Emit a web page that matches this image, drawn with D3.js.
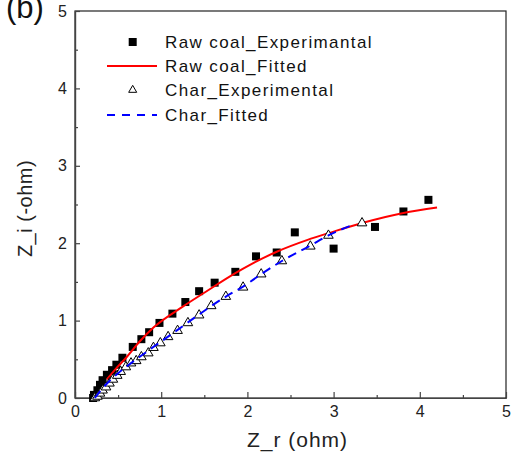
<!DOCTYPE html>
<html>
<head>
<meta charset="utf-8">
<script src="https://cdn.jsdelivr.net/npm/d3@7"></script>
<style>
  body { margin: 0; background: #fff; }
  svg { display: block; font-family: "Liberation Sans", Arial, sans-serif; }
</style>
</head>
<body>
<div class="svg-container"></div>
<script>
// raw coal, experimental points [Z_r, Z_i]
const rawExpX = [0.21, 0.22, 0.26, 0.29, 0.32, 0.37, 0.43, 0.48, 0.55, 0.67, 0.77, 0.86, 0.98, 1.13, 1.28, 1.44, 1.62, 1.86, 2.10, 2.34, 2.55, 3.00, 3.48, 3.81, 4.10];
const rawExpY = [0.00, 0.04, 0.10, 0.17, 0.23, 0.30, 0.36, 0.43, 0.52, 0.66, 0.76, 0.85, 0.97, 1.09, 1.24, 1.38, 1.49, 1.63, 1.83, 1.88, 2.14, 1.93, 2.21, 2.41, 2.56];

// raw coal, fitted curve
const rawFitX = [0.37, 0.46, 0.60, 0.75, 0.91, 1.25, 1.50, 1.87, 2.03, 2.34, 2.69, 3.00, 3.33, 3.81, 4.20];
const rawFitY = [0.24, 0.36, 0.53, 0.73, 0.91, 1.18, 1.36, 1.62, 1.72, 1.89, 2.04, 2.15, 2.26, 2.39, 2.46];

// char, experimental points
const charExpX = [0.23, 0.26, 0.29, 0.32, 0.36, 0.40, 0.44, 0.49, 0.53, 0.59, 0.65, 0.71, 0.77, 0.85, 0.91, 0.99, 1.08, 1.19, 1.31, 1.44, 1.58, 1.75, 1.95, 2.16, 2.40, 2.73, 2.94, 3.33];
const charExpY = [0.00, 0.02, 0.06, 0.10, 0.14, 0.19, 0.24, 0.29, 0.34, 0.40, 0.45, 0.48, 0.53, 0.58, 0.65, 0.71, 0.79, 0.87, 0.97, 1.07, 1.19, 1.31, 1.43, 1.60, 1.77, 1.96, 2.10, 2.26];

// char, fitted curve
const charFitX = [0.23, 0.30, 0.40, 0.50, 0.65, 0.91, 1.19, 1.44, 1.75, 1.95, 2.16, 2.40, 2.73, 2.94, 3.25];
const charFitY = [0.00, 0.10, 0.22, 0.32, 0.45, 0.66, 0.88, 1.08, 1.31, 1.44, 1.60, 1.77, 1.97, 2.10, 2.25];

const xTicks = [0, 1, 2, 3, 4, 5];
const yTicks = [0, 1, 2, 3, 4, 5];
const legendLabels = ['Raw coal_Experimantal', 'Raw coal_Fitted', 'Char_Experimental', 'Char_Fitted'];

const W = 513, H = 456;
const plot = { left: 75, right: 506, top: 11, bottom: 398 };
const axisColor = '#444';

const svg = d3.select('.svg-container')
    .append('svg')
    .attr('width', W)
    .attr('height', H);

const x = d3.scaleLinear().domain([0, 5]).range([plot.left, plot.right]);
const y = d3.scaleLinear().domain([0, 5]).range([plot.bottom, plot.top]);

const zip = (xs, ys) => xs.map((v, i) => [v, ys[i]]);
const rawExp = zip(rawExpX, rawExpY);
const rawFit = zip(rawFitX, rawFitY);
const charExp = zip(charExpX, charExpY);
const charFit = zip(charFitX, charFitY);

//frame
svg.append('rect')
    .attr('x', plot.left).attr('y', plot.top)
    .attr('width', plot.right - plot.left)
    .attr('height', plot.bottom - plot.top)
    .attr('fill', 'none')
    .attr('stroke', '#222')
    .attr('stroke-width', 1.2);

//x axis, ticks pointing inward
const gx = svg.append('g')
    .attr('transform', `translate(0, ${plot.bottom})`)
    .call(d3.axisBottom(x).tickValues(xTicks).tickFormat(d3.format('d'))
        .tickSizeInner(-6).tickSizeOuter(0).tickPadding(8));
gx.append('g').call(d3.axisBottom(x).tickValues(xTicks.slice(0, -1).map(d => d + 0.5))
        .tickSizeInner(-3).tickSizeOuter(0).tickFormat(''));

//y axis
const gy = svg.append('g')
    .attr('transform', `translate(${plot.left}, 0)`)
    .call(d3.axisLeft(y).tickValues(yTicks).tickFormat(d3.format('d'))
        .tickSizeInner(-5).tickSizeOuter(0).tickPadding(8));
gy.append('g').call(d3.axisLeft(y).tickValues(yTicks.slice(0, -1).map(d => d + 0.5))
        .tickSizeInner(-3).tickSizeOuter(0).tickFormat(''));

svg.selectAll('.domain').attr('stroke', axisColor).attr('stroke-width', 1.2);
svg.selectAll('.tick line').attr('stroke', axisColor).attr('stroke-width', 1.2);
svg.selectAll('.tick text')
    .attr('font-size', 16)
    .attr('font-family', '"Liberation Sans", Arial, sans-serif')
    .attr('fill', '#222');

//axis titles
svg.append('text')
    .attr('x', (plot.left + plot.right) / 2 + 7)
    .attr('y', 447)
    .attr('text-anchor', 'middle')
    .attr('font-size', 21)
    .attr('letter-spacing', 1)
    .attr('fill', '#222')
    .text('Z_r (ohm)');

svg.append('text')
    .attr('transform', `translate(32, ${(plot.top + plot.bottom) / 2 + 4}) rotate(-90)`)
    .attr('text-anchor', 'middle')
    .attr('font-size', 20)
    .attr('letter-spacing', 0.5)
    .attr('fill', '#222')
    .text('Z_i (-ohm)');

svg.append('text')
    .attr('x', 6)
    .attr('y', 18)
    .attr('font-size', 31)
    .attr('fill', '#111')
    .text('(b)');

const line = d3.line()
    .x(d => x(d[0]))
    .y(d => y(d[1]))
    .curve(d3.curveMonotoneX);

const sq = 8;

//raw coal squares
svg.selectAll('.raw-pt')
    .data(rawExp)
    .join('rect')
    .attr('class', 'raw-pt')
    .attr('x', d => x(d[0]) - sq / 2)
    .attr('y', d => y(d[1]) - sq / 2)
    .attr('width', sq)
    .attr('height', sq)
    .attr('fill', '#000');

//raw coal fit
svg.append('path')
    .datum(rawFit)
    .attr('d', line)
    .attr('fill', 'none')
    .attr('stroke', '#ff0000')
    .attr('stroke-width', 2);

//char triangles
const tri = d3.symbol().type(d3.symbolTriangle).size(40);
svg.selectAll('.char-pt')
    .data(charExp)
    .join('path')
    .attr('class', 'char-pt')
    .attr('d', tri)
    .attr('transform', d => `translate(${x(d[0])}, ${y(d[1])})`)
    .attr('fill', '#fff')
    .attr('stroke', '#000')
    .attr('stroke-width', 1);

//char fit
svg.append('path')
    .datum(charFit)
    .attr('d', line)
    .attr('fill', 'none')
    .attr('stroke', '#0000ff')
    .attr('stroke-width', 2)
    .attr('stroke-dasharray', '9,6');

//legend
const legX = 132.7, legTextX = 165;
const legY = [42, 66, 90, 115];
const leg = svg.append('g').attr('class', 'legend');

leg.append('rect')
    .attr('x', legX - 4).attr('y', legY[0] - 4)
    .attr('width', 8).attr('height', 8)
    .attr('fill', '#000');
leg.append('line')
    .attr('x1', 107).attr('x2', 157)
    .attr('y1', legY[1]).attr('y2', legY[1])
    .attr('stroke', '#ff0000').attr('stroke-width', 2);
leg.append('path')
    .attr('d', d3.symbol().type(d3.symbolTriangle).size(28))
    .attr('transform', `translate(${legX}, ${legY[2]})`)
    .attr('fill', '#fff').attr('stroke', '#000').attr('stroke-width', 1);
leg.append('line')
    .attr('x1', 107).attr('x2', 157)
    .attr('y1', legY[3]).attr('y2', legY[3])
    .attr('stroke', '#0000ff').attr('stroke-width', 2)
    .attr('stroke-dasharray', '8,7');

leg.selectAll('.leg-text')
    .data(legendLabels)
    .join('text')
    .attr('class', 'leg-text')
    .attr('x', legTextX)
    .attr('y', (d, i) => legY[i] + 6)
    .attr('font-size', 17)
    .attr('letter-spacing', 1.4)
    .attr('fill', '#111')
    .text(d => d);
</script>
</body>
</html>
